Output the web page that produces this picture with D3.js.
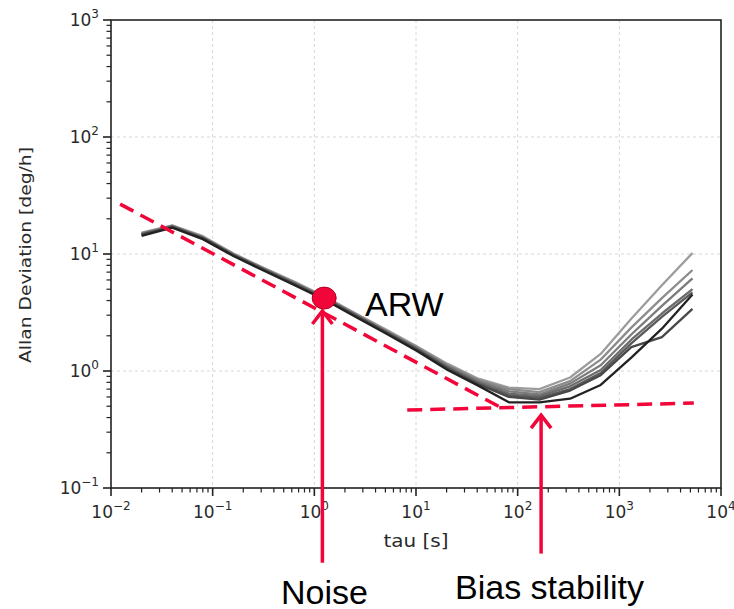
<!DOCTYPE html>
<html>
<head>
<meta charset="utf-8">
<script src="https://cdn.jsdelivr.net/npm/d3@7"></script>
<style>
  body { margin: 0; background: #fff; }
  svg { display: block; }
</style>
</head>
<body>
<svg width="734" height="609"></svg>
<script>
var width = 734, height = 609;
var margin = {top: 20, right: 13, bottom: 121, left: 111};

// averaging times (s)
var taus = [0.02, 0.04, 0.08, 0.16, 0.32, 0.64, 1.28, 2.56, 5.12, 10.24, 20.48, 40.96,
            81.92, 163.84, 327.68, 655.36, 1310.72, 2621.44, 5242.88];

// Allan deviation curves [deg/h], one per run
var run1 = [15.2, 17.6, 14.2, 10.1, 7.6, 5.8, 4.3, 3.1, 2.25, 1.62, 1.15, 0.86, 0.72, 0.70, 0.88, 1.4, 2.8, 5.4, 10.2];
var run2 = [15.0, 17.4, 14.0, 10.0, 7.5, 5.7, 4.25, 3.05, 2.2, 1.6, 1.12, 0.84, 0.70, 0.66, 0.82, 1.25, 2.35, 4.2, 7.3];
var run3 = [14.9, 17.3, 13.9, 9.9, 7.45, 5.65, 4.2, 3.02, 2.18, 1.57, 1.1, 0.82, 0.67, 0.63, 0.78, 1.12, 2.05, 3.6, 6.2];
var run4 = [14.8, 17.2, 13.8, 9.85, 7.4, 5.6, 4.2, 3.0, 2.16, 1.55, 1.08, 0.80, 0.64, 0.61, 0.74, 1.02, 1.85, 3.1, 5.0];
var run5 = [14.7, 17.1, 13.7, 9.8, 7.35, 5.55, 4.15, 2.98, 2.14, 1.53, 1.06, 0.78, 0.62, 0.59, 0.70, 0.96, 1.72, 2.9, 4.7];
var run6 = [14.6, 17.0, 13.6, 9.75, 7.3, 5.5, 4.1, 2.95, 2.12, 1.52, 1.05, 0.77, 0.60, 0.57, 0.68, 0.92, 1.6, 1.95, 3.4];
var run7 = [14.3, 16.8, 13.4, 9.6, 7.2, 5.4, 4.05, 2.9, 2.08, 1.48, 1.02, 0.75, 0.54, 0.54, 0.58, 0.76, 1.3, 2.3, 4.5];
var runs = [run1, run2, run3, run4, run5, run6, run7];
var runColors = ["#9c9c9c", "#8c8c8c", "#7c7c7c", "#6c6c6c", "#5a5a5a", "#484848", "#222222"];

var xDecades = [-2, -1, 0, 1, 2, 3, 4];
var yDecades = [-1, 0, 1, 2, 3];

// annotations (tau, value)
var arwLine = [[0.0123, 26.7], [76, 0.464]];
var biasLine = [[8.2, 0.464], [5400, 0.532]];
var arwPoint = [1.25, 4.2];
var noiseArrow = [[1.2, 0.023], [1.2, 3.39]];
var biasArrow = [[170, 0.0275], [170, 0.437]];

var red = "#f2063a";

var svg = d3.select("svg");

var x = d3.scaleLog()
    .domain([1e-2, 1e4])
    .range([margin.left, width - margin.right]);

var y = d3.scaleLog()
    .domain([1e-1, 1e3])
    .range([height - margin.bottom, margin.top]);

// grid
svg.append("g").selectAll("line")
    .data(xDecades.slice(1, -1))
    .enter().append("line")
    .attr("x1", d => x(Math.pow(10, d))).attr("x2", d => x(Math.pow(10, d)))
    .attr("y1", margin.top).attr("y2", height - margin.bottom)
    .attr("stroke", "#d6d6d6").attr("stroke-dasharray", "3,3");

svg.append("g").selectAll("line")
    .data(yDecades.slice(1, -1))
    .enter().append("line")
    .attr("y1", d => y(Math.pow(10, d))).attr("y2", d => y(Math.pow(10, d)))
    .attr("x1", margin.left).attr("x2", width - margin.right)
    .attr("stroke", "#d6d6d6").attr("stroke-dasharray", "3,3");

// frame
svg.append("rect")
    .attr("x", margin.left).attr("y", margin.top)
    .attr("width", width - margin.left - margin.right)
    .attr("height", height - margin.top - margin.bottom)
    .attr("fill", "none").attr("stroke", "#222").attr("stroke-width", 1.6);

// minor ticks
var xMinor = x.ticks().filter(d => Math.abs(Math.log10(d) - Math.round(Math.log10(d))) > 1e-6);
var yMinor = y.ticks().filter(d => Math.abs(Math.log10(d) - Math.round(Math.log10(d))) > 1e-6);

svg.append("g").selectAll("line")
    .data(xMinor).enter().append("line")
    .attr("x1", d => x(d)).attr("x2", d => x(d))
    .attr("y1", height - margin.bottom).attr("y2", height - margin.bottom + 4.5)
    .attr("stroke", "#222").attr("stroke-width", 1.2);

svg.append("g").selectAll("line")
    .data(yMinor).enter().append("line")
    .attr("y1", d => y(d)).attr("y2", d => y(d))
    .attr("x1", margin.left).attr("x2", margin.left - 4.5)
    .attr("stroke", "#222").attr("stroke-width", 1.2);

// major ticks + labels
var xTick = svg.append("g").selectAll("g")
    .data(xDecades).enter().append("g")
    .attr("transform", d => "translate(" + x(Math.pow(10, d)) + "," + (height - margin.bottom) + ")");
xTick.append("line").attr("y2", 8).attr("stroke", "#222").attr("stroke-width", 1.6);
var xLab = xTick.append("text")
    .attr("y", 30)
    .attr("text-anchor", "middle")
    .style("font-family", "DejaVu Sans")
    .style("font-size", "17px")
    .attr("fill", "#2a2a2a");
xLab.append("tspan").text("10");
xLab.append("tspan").attr("dy", -8).style("font-size", "12px").text(d => String(d).replace("-", "\u2212"));

var yTick = svg.append("g").selectAll("g")
    .data(yDecades).enter().append("g")
    .attr("transform", d => "translate(" + margin.left + "," + y(Math.pow(10, d)) + ")");
yTick.append("line").attr("x2", -8).attr("stroke", "#222").attr("stroke-width", 1.6);
var yLab = yTick.append("text")
    .attr("x", -12)
    .attr("y", 6)
    .attr("text-anchor", "end")
    .style("font-family", "DejaVu Sans")
    .style("font-size", "17px")
    .attr("fill", "#2a2a2a");
yLab.append("tspan").text("10");
yLab.append("tspan").attr("dy", -8).style("font-size", "12px").text(d => String(d).replace("-", "\u2212"));

// axis titles
svg.append("text")
    .attr("x", 416).attr("y", 547)
    .attr("text-anchor", "middle")
    .attr("textLength", 65)
    .attr("lengthAdjust", "spacingAndGlyphs")
    .style("font-family", "DejaVu Sans")
    .style("font-size", "18px")
    .attr("fill", "#2a2a2a")
    .text("tau [s]");

svg.append("text")
    .attr("transform", "translate(31,255) rotate(-90)")
    .attr("text-anchor", "middle")
    .attr("textLength", 216)
    .attr("lengthAdjust", "spacingAndGlyphs")
    .style("font-family", "DejaVu Sans")
    .style("font-size", "16px")
    .attr("fill", "#2a2a2a")
    .text("Allan Deviation [deg/h]");

// curves
var line = d3.line()
    .x((d, i) => x(taus[i]))
    .y(d => y(d));

svg.append("g").selectAll("path")
    .data(runs).enter().append("path")
    .attr("d", line)
    .attr("fill", "none")
    .attr("stroke", (d, i) => runColors[i])
    .attr("stroke-width", 2.3)
    .attr("stroke-linejoin", "round");

// dashed fits
var pline = d3.line().x(d => x(d[0])).y(d => y(d[1]));

[arwLine, biasLine].forEach(function(l) {
    svg.append("path")
        .attr("d", pline(l))
        .attr("fill", "none")
        .attr("stroke", red)
        .attr("stroke-width", 3.5)
        .attr("stroke-dasharray", "15,8");
});

// arrows
[noiseArrow, biasArrow].forEach(function(a) {
    var px = x(a[0][0]), y0 = y(a[0][1]), y1 = y(a[1][1]);
    svg.append("line")
        .attr("x1", px).attr("x2", px)
        .attr("y1", y0).attr("y2", y1 + 2)
        .attr("stroke", red).attr("stroke-width", 3.5);
    svg.append("path")
        .attr("d", "M" + (px - 10) + "," + (y1 + 15) + "L" + px + "," + (y1 + 2) + "L" + (px + 10) + "," + (y1 + 15))
        .attr("fill", "none")
        .attr("stroke", red).attr("stroke-width", 3.5);
});

// ARW point
svg.append("ellipse")
    .attr("cx", x(arwPoint[0])).attr("cy", y(arwPoint[1]))
    .attr("rx", 12).attr("ry", 11)
    .attr("fill", red)
    .attr("stroke", "#b00020").attr("stroke-width", 1);

// labels
var labels = [
    {text: "ARW", x: 365, y: 316},
    {text: "Noise", x: 281, y: 604},
    {text: "Bias stability", x: 455, y: 599}
];
svg.append("g").selectAll("text")
    .data(labels).enter().append("text")
    .attr("x", d => d.x).attr("y", d => d.y)
    .style("font-family", "Liberation Sans, Arial")
    .style("font-size", "34px")
    .attr("fill", "#000")
    .text(d => d.text);
</script>
</body>
</html>
